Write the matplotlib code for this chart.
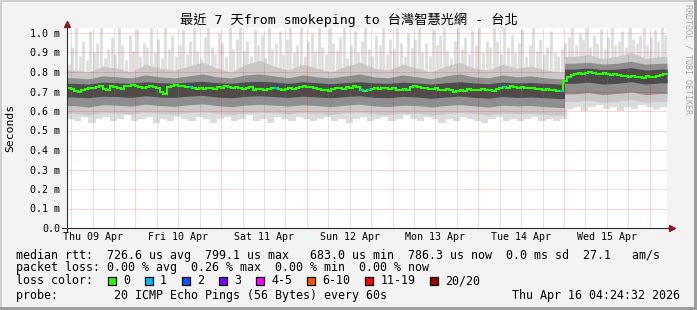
import numpy as np
import matplotlib
matplotlib.use("Agg")
import matplotlib.pyplot as plt
from matplotlib.patches import Rectangle

W, H = 697, 310
MONO = ["DejaVu Sans Mono", "Noto Sans CJK TC"]

# x axis: hours since graph start (Thu 09 Apr ~04:51), 7 days
span_h = 168
first_midnight = 19.15
shift_h = 139.3   # latency step on Wed 15 Apr
day_labels = ["Thu 09 Apr", "Fri 10 Apr", "Sat 11 Apr", "Sun 12 Apr",
              "Mon 13 Apr", "Tue 14 Apr", "Wed 15 Apr"]

# median rtt in ms, one value per hour
median = [0.718, 0.712, 0.702, 0.697, 0.710, 0.715, 0.720, 0.716, 0.722, 0.727, 0.712, 0.708, 0.726, 0.721, 0.718, 0.713, 0.726, 0.730, 0.734, 0.729, 0.722, 0.717, 0.725, 0.729,
          0.724, 0.719, 0.700, 0.688, 0.722, 0.729, 0.732, 0.727, 0.726, 0.721, 0.724, 0.719, 0.714, 0.718, 0.712, 0.716, 0.718, 0.713, 0.722, 0.717, 0.727, 0.723, 0.720, 0.724,
          0.718, 0.713, 0.716, 0.721, 0.709, 0.713, 0.715, 0.709, 0.712, 0.717, 0.719, 0.713, 0.710, 0.714, 0.718, 0.713, 0.716, 0.721, 0.727, 0.722, 0.724, 0.719, 0.714, 0.709,
          0.710, 0.705, 0.713, 0.718, 0.720, 0.715, 0.724, 0.719, 0.727, 0.722, 0.710, 0.705, 0.708, 0.712, 0.718, 0.713, 0.716, 0.720, 0.712, 0.716, 0.706, 0.710, 0.713, 0.707,
          0.722, 0.726, 0.724, 0.719, 0.718, 0.713, 0.712, 0.716, 0.706, 0.710, 0.712, 0.707, 0.700, 0.704, 0.706, 0.701, 0.714, 0.709, 0.706, 0.710, 0.712, 0.707, 0.710, 0.705,
          0.714, 0.719, 0.724, 0.720, 0.727, 0.722, 0.720, 0.724, 0.716, 0.720, 0.718, 0.713, 0.714, 0.709, 0.712, 0.707, 0.710, 0.705, 0.702, 0.752, 0.772, 0.785, 0.790, 0.795,
          0.792, 0.797, 0.799, 0.794, 0.788, 0.792, 0.795, 0.790, 0.784, 0.788, 0.786, 0.781, 0.778, 0.773, 0.780, 0.776, 0.774, 0.769, 0.777, 0.772, 0.776, 0.781, 0.786, 0.790]

# lost pings per hour
loss = [0] * 24 + \
       [0, 0, 0, 0, 0, 0, 0, 0, 0, 0, 1, 0, 0, 0, 0, 0, 0, 0, 0, 0, 0, 0, 0, 0] + \
       [0, 0, 0, 0, 0, 0, 0, 0, 0, 0, 1, 0, 0, 0, 0, 0, 0, 0, 0, 0, 0, 0, 0, 0] + \
       [0, 0, 0, 0, 0, 0, 0, 0, 0, 0, 1, 0, 1, 0, 0, 0, 0, 0, 0, 0, 0, 0, 0, 0] + \
       [0] * 24 + \
       [0, 0, 1, 0, 0, 0, 0, 0, 0, 0, 0, 0, 0, 0, 0, 0, 0, 0, 1, 0, 0, 0, 0, 0] + \
       [0] * 24

# slowest ping per hour (ms)
ping_max = [0.84, 0.93, 1.03, 0.88, 0.96, 0.86, 1.01, 0.90, 0.95, 1.03, 0.87, 0.92, 0.98, 0.89, 1.03, 0.94, 0.86, 0.99, 0.91, 1.02, 0.88, 0.95, 0.93, 1.03,
            0.90, 0.97, 0.87, 1.03, 0.92, 0.99, 0.88, 0.94, 1.02, 0.89, 0.96, 1.03, 0.91, 0.87, 0.98, 1.03, 0.93, 0.89, 1.00, 0.95, 0.88, 1.03, 0.92, 0.97,
            1.03, 0.91, 0.96, 0.88, 1.02, 0.94, 0.99, 0.87, 1.03, 0.92, 0.95, 1.01, 0.89, 0.97, 1.03, 0.90, 0.94, 1.03, 0.88, 0.96, 1.00, 0.91, 1.03, 0.93,
            0.89, 1.03, 0.95, 0.91, 0.98, 1.03, 0.87, 0.94, 1.01, 0.90, 0.96, 1.03, 0.92, 0.88, 0.99, 0.94, 1.03, 0.89, 0.97, 0.92, 1.03, 0.95, 0.88, 1.00,
            0.93, 0.97, 1.03, 0.90, 0.95, 0.88, 1.02, 0.94, 0.99, 1.03, 0.91, 0.87, 0.96, 1.03, 0.92, 0.98, 0.89, 1.01, 0.94, 1.03, 0.90, 0.96, 0.93, 1.03,
            0.96, 0.89, 1.03, 0.93, 0.99, 0.90, 0.95, 1.02, 0.88, 0.94, 1.03, 0.91, 0.97, 0.89, 0.93, 1.01, 0.90, 0.88, 0.92, 0.95, 0.98, 1.03, 0.94, 1.00,
            0.97, 1.03, 0.93, 0.99, 0.95, 1.02, 0.92, 0.98, 1.03, 0.94, 0.96, 1.01, 0.93, 1.03, 0.97, 0.95, 0.99, 1.03, 0.94, 0.98, 1.02, 0.96, 1.03, 0.99]

# fastest ping per 2 hours (ms)
ping_min = [0.56, 0.55, 0.57, 0.54, 0.56, 0.57, 0.55, 0.56, 0.58, 0.55, 0.56, 0.57,
            0.54, 0.56, 0.55, 0.57, 0.56, 0.55, 0.57, 0.56, 0.54, 0.56, 0.57, 0.55,
            0.56, 0.58, 0.55, 0.56, 0.54, 0.57, 0.56, 0.55, 0.57, 0.56, 0.55, 0.56,
            0.57, 0.55, 0.56, 0.54, 0.56, 0.57, 0.55, 0.56, 0.57, 0.55, 0.56, 0.58,
            0.56, 0.55, 0.57, 0.56, 0.54, 0.56, 0.55, 0.57, 0.56, 0.55, 0.54, 0.56,
            0.57, 0.55, 0.56, 0.55, 0.56, 0.57, 0.55, 0.56, 0.55, 0.56, 0.61, 0.62,
            0.60, 0.62, 0.63, 0.61, 0.62, 0.60, 0.62, 0.61, 0.63, 0.62, 0.61, 0.62]

# smoke band edges per 4 hours (ms), outer -> inner
hi3 = [0.81, 0.80, 0.83, 0.82, 0.80, 0.84,
       0.82, 0.81, 0.83, 0.85, 0.82, 0.80,
       0.84, 0.86, 0.83, 0.81, 0.84, 0.82,
       0.80, 0.83, 0.85, 0.82, 0.81, 0.84,
       0.82, 0.80, 0.83, 0.85, 0.82, 0.81,
       0.84, 0.82, 0.83, 0.81, 0.80, 0.88,
       0.89, 0.87, 0.88, 0.90, 0.87, 0.88]
hi2 = [0.770, 0.765, 0.780, 0.775, 0.770, 0.785,
       0.775, 0.770, 0.780, 0.790, 0.775, 0.770,
       0.785, 0.790, 0.780, 0.770, 0.785, 0.775,
       0.770, 0.780, 0.790, 0.775, 0.770, 0.785,
       0.775, 0.765, 0.780, 0.790, 0.775, 0.770,
       0.785, 0.775, 0.780, 0.770, 0.765, 0.845,
       0.850, 0.840, 0.845, 0.855, 0.840, 0.845]
hi1 = [0.742, 0.738, 0.748, 0.745, 0.742, 0.750,
       0.745, 0.742, 0.748, 0.752, 0.745, 0.742,
       0.750, 0.752, 0.748, 0.742, 0.750, 0.745,
       0.740, 0.746, 0.750, 0.744, 0.742, 0.748,
       0.744, 0.738, 0.745, 0.750, 0.744, 0.740,
       0.748, 0.744, 0.746, 0.742, 0.738, 0.815,
       0.820, 0.812, 0.815, 0.822, 0.810, 0.815]
lo1 = [0.672, 0.668, 0.676, 0.674, 0.670, 0.678,
       0.672, 0.670, 0.676, 0.680, 0.672, 0.668,
       0.675, 0.678, 0.674, 0.670, 0.676, 0.672,
       0.668, 0.674, 0.678, 0.670, 0.668, 0.675,
       0.672, 0.665, 0.672, 0.676, 0.670, 0.666,
       0.674, 0.670, 0.672, 0.668, 0.664, 0.742,
       0.748, 0.738, 0.742, 0.750, 0.738, 0.744]
lo2 = [0.628, 0.620, 0.632, 0.630, 0.625, 0.635,
       0.628, 0.624, 0.632, 0.636, 0.628, 0.622,
       0.630, 0.634, 0.630, 0.625, 0.632, 0.628,
       0.622, 0.630, 0.635, 0.626, 0.622, 0.630,
       0.628, 0.620, 0.628, 0.633, 0.626, 0.620,
       0.630, 0.626, 0.628, 0.622, 0.618, 0.688,
       0.695, 0.684, 0.690, 0.698, 0.684, 0.690]
lo3 = [0.588, 0.580, 0.592, 0.590, 0.585, 0.595,
       0.588, 0.584, 0.592, 0.596, 0.588, 0.582,
       0.590, 0.594, 0.590, 0.585, 0.592, 0.588,
       0.582, 0.590, 0.595, 0.586, 0.582, 0.590,
       0.588, 0.580, 0.588, 0.593, 0.586, 0.580,
       0.590, 0.586, 0.588, 0.582, 0.578, 0.648,
       0.655, 0.644, 0.650, 0.658, 0.644, 0.650]

loss_labels = ["0", "1", "2", "3", "4-5", "6-10", "11-19", "20/20"]
loss_colors = ["#26ff00", "#00b8ff", "#0059ff", "#7e00ff", "#ff00ff", "#ff5500", "#ff0000", "#a10000"]

title = "最近 7 天from smokeping to 台灣智慧光網 - 台北"
stat_rtt = "median rtt:  726.6 us avg  799.1 us max   683.0 us min  786.3 us now  0.0 ms sd  27.1   am/s"
stat_loss = "packet loss: 0.00 % avg  0.26 % max  0.00 % min  0.00 % now"
probe = "probe:        20 ICMP Echo Pings (56 Bytes) every 60s"
stamp = "Thu Apr 16 04:24:32 2026"

plt.rcParams['font.family'] = MONO

fig = plt.figure(figsize=(W / 100, H / 100), dpi=100, facecolor="#f3f3f3")
ax = fig.add_axes([67 / W, 82 / H, 600 / W, 200 / H])
ax.set_facecolor("white")
ax.set_xlim(0, span_h)
ax.set_ylim(0, 200 / 195)
for s in ax.spines.values():
    s.set_visible(False)

med = np.array(median)
e1 = np.linspace(0, span_h, len(median) + 1)
c1 = (e1[:-1] + e1[1:]) / 2
e2 = np.linspace(0, span_h, len(ping_min) + 1)
c4 = np.linspace(0, span_h, len(hi3) + 1)
c4 = (c4[:-1] + c4[1:]) / 2

# smoke: light spikes, then bands from outside in
ax.vlines(c1, med, ping_max, color="#dcdcdc", lw=1.9, zorder=1)
ax.stairs(med[::2], e2, baseline=ping_min, fill=True, color="#dcdcdc", zorder=1)


def band(hi, lo, color, z):
    hi, lo = np.array(hi), np.array(lo)
    pre = c4 < shift_h
    xa = np.r_[0, c4[pre], shift_h]
    ax.fill_between(xa, np.r_[lo[pre][0], lo[pre], lo[pre][-1]],
                    np.r_[hi[pre][0], hi[pre], hi[pre][-1]], color=color, lw=0, zorder=z)
    xb = np.r_[shift_h, c4[~pre], span_h]
    ax.fill_between(xb, np.r_[lo[~pre][0], lo[~pre], lo[~pre][-1]],
                    np.r_[hi[~pre][0], hi[~pre], hi[~pre][-1]], color=color, lw=0, zorder=z)


band(hi3, lo3, "#c8c8c8", 2)
band(hi2, lo2, "#8e8e8e", 3)
band(hi1, lo1, "#4c4c4c", 4)

# grid
dot = (0, (1, 1))
for v in np.arange(1, 11) / 10:
    ax.axhline(v, color=(1, 0, 0, 0.35), lw=0.72, ls=dot, zorder=5)
t = first_midnight - 18
while t < span_h:
    if abs((t - first_midnight) % 24) < 1e-6:
        ax.axvline(t, color=(1, 0, 0, 0.35), lw=0.72, ls=dot, zorder=5)
    else:
        ax.axvline(t, color=(0.5, 0.5, 0.5, 0.45), lw=0.72, ls=dot, zorder=5)
    t += 6

# median line coloured by loss
ax.stairs(med, e1, baseline=None, color=loss_colors[0], lw=1.5, zorder=6)
for c, m, l in zip(c1, med, loss):
    if l > 0:
        ax.plot([c - 0.45, c + 0.45], [m, m], color=loss_colors[1], lw=1.6,
                solid_capstyle="butt", zorder=7)

# axes with arrows
axis_c = "#2c2c2c"
ax.plot([0, 0], [-4 / 195, 1.035], color=axis_c, lw=0.8, clip_on=False, zorder=8)
ax.plot([-1.4, span_h + 0.6], [0, 0], color=axis_c, lw=0.8, clip_on=False, zorder=8)
ax.plot([0], [1.045], marker="^", ms=4, color="#8b1a1a", clip_on=False, zorder=9)
ax.plot([span_h + 1.4], [0], marker=">", ms=4, color="#8b1a1a", clip_on=False, zorder=9)

yt = np.arange(0, 11) / 10
ax.set_yticks(yt)
ax.set_yticklabels(["0.0" if v == 0 else f"{v:.1f} m" for v in yt], fontsize=7.2)
noons = [first_midnight - 12 + 24 * k for k in range(len(day_labels))]
ax.set_xticks(noons)
ax.set_xticklabels(day_labels, fontsize=7.2)
ax.tick_params(axis="y", length=0, pad=5)
ax.tick_params(axis="x", length=0, pad=3)


def px(x, y):
    return x / W, 1 - y / H


fig.text(*px(348.5, 20), title, ha="center", va="center", fontsize=9.5, family=MONO)
fig.text(*px(10, 128), "Seconds", rotation=90, ha="center", va="center", fontsize=8.2)
fig.text(*px(688, 59), "RRDTOOL / TOBI OETIKER", rotation=270, ha="center", va="center",
         fontsize=6, color="#aaaaaa")

fig.text(*px(16, 255), stat_rtt, va="center", fontsize=8.4)
fig.text(*px(16, 268), stat_loss, va="center", fontsize=8.4)
fig.text(*px(16, 281), "loss color:", va="center", fontsize=8.4)
x = 108
for lab, col in zip(loss_labels, loss_colors):
    fig.patches.append(Rectangle(px(x, 285), 8 / W, 8 / H, transform=fig.transFigure,
                                 facecolor=col, edgecolor="black", lw=0.9))
    fig.text(*px(x + 15, 281), lab, va="center", fontsize=8.4)
    x += 15 + 7.03 * len(lab) + 15
fig.text(*px(16, 295), probe, va="center", fontsize=8.4)
fig.text(*px(680, 295), stamp, ha="right", va="center", fontsize=8.4)

# frame shading
fig.patches.append(Rectangle((0, 1 - 2 / H), 1, 2 / H, transform=fig.transFigure, color="#cfcfcf", lw=0))
fig.patches.append(Rectangle((0, 0), 2 / W, 1, transform=fig.transFigure, color="#cfcfcf", lw=0))
fig.patches.append(Rectangle((0, 0), 1, 3 / H, transform=fig.transFigure, color="#9e9e9e", lw=0))
fig.patches.append(Rectangle((1 - 3 / W, 0), 3 / W, 1, transform=fig.transFigure, color="#9e9e9e", lw=0))

fig.savefig("out.png", dpi=100, facecolor=fig.get_facecolor())
